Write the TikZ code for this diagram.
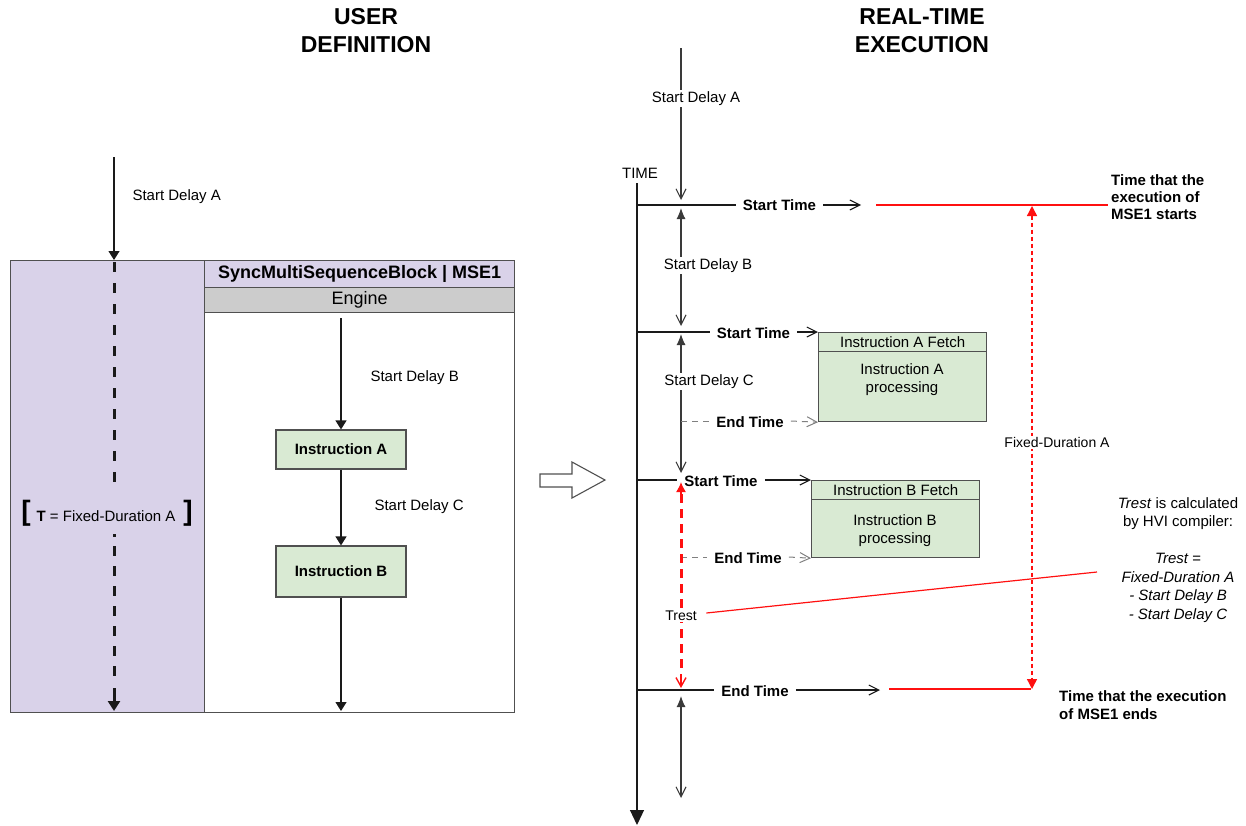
\documentclass[tikz,border=0pt]{standalone}
\usepackage{fontspec}
\setmainfont{Liberation Sans}
\usetikzlibrary{arrows.meta}
\definecolor{lpurple}{HTML}{D9D2E9}
\definecolor{lgreen}{HTML}{D9EAD3}
\definecolor{lgray}{HTML}{CCCCCC}
\definecolor{edge}{HTML}{505050}
\definecolor{ink}{HTML}{1A1A1A}
\definecolor{vink}{HTML}{3A3A3A}
\definecolor{dgray}{HTML}{808080}
\definecolor{redl}{HTML}{FF1010}
\tikzset{
  ov/.tip={Straight Barb[length=10pt,width=10pt]},
  fv/.tip={Latex[length=11pt,width=9pt]},
  lt/.tip={Triangle[length=9pt,width=11pt]},
  rt/.tip={Triangle[length=10pt,width=10pt]},
  base/.style={font=\fontsize{15}{18}\selectfont},
  title/.style={align=center, inner sep=0pt, font=\bfseries\fontsize{23}{28}\selectfont},
  lbl/.style={inner sep=1.5pt, fill=white, font=\fontsize{15}{18}\selectfont},
  blbl/.style={inner xsep=7pt, inner ysep=1pt, font=\bfseries\fontsize{15}{18}\selectfont},
  box/.style={draw=edge, line width=1.2pt, anchor=north west, inner sep=0pt},
  ibox/.style={draw=edge, line width=1.2pt, fill=lgreen, minimum width=130pt, inner sep=0pt, font=\bfseries\fontsize{15}{18}\selectfont},
  lcon/.style={draw=ink, line width=1.2pt},
  con/.style={draw=ink, line width=1.1pt},
  vcon/.style={draw=vink, line width=1.1pt},
  gdash/.style={draw=dgray, line width=1pt, dash pattern=on 6pt off 5pt},
  redline/.style={draw=redl, line width=1.2pt},
}
\begin{document}
\begin{tikzpicture}[x=1pt,y=-1pt,base]
\useasboundingbox (0,0) rectangle (1246,825);

% titles
\node[title] (ttl1) at (366,31) {USER\\DEFINITION};
\node[title] (ttl2) at (922,31) {REAL-TIME\\EXECUTION};

% ---------- left panel ----------
\node[box, fill=lpurple, minimum width=194pt, minimum height=452pt] (purp) at (10,260) {};
\node[box, fill=white, minimum width=310pt, minimum height=452pt] (blk) at (204,260) {};
\node[box, fill=lpurple, minimum width=310pt, minimum height=27pt, font=\bfseries\fontsize{18}{20}\selectfont] (hdr) at (204,260) {SyncMultiSequenceBlock | MSE1};
\node[box, fill=lgray, minimum width=310pt, minimum height=25pt, font=\fontsize{18}{20}\selectfont] (eng) at (204,287) {Engine};

\coordinate (sdaL) at (114,157);
\draw[lcon, -lt] (sdaL) -- (purp.north -| sdaL);
\node[anchor=west] (sdaLl) at (129,197) {Start Delay A};

% dashed duration line inside the purple panel
\foreach \i in {0,...,10} {
  \fill[ink] (112.5,262+21*\i) rectangle (115.5,272+21*\i);
}
\fill[ink] (112.5,534) rectangle (115.5,537);
\foreach \i in {0,...,6} {
  \fill[ink] (112.5,546+20*\i) rectangle (115.5,556+20*\i);
}
\coordinate (pd3) at (114,688);
\coordinate (pd4) at (114,711);
\draw[draw=ink, line width=3pt, -{Triangle[length=10pt,width=12pt]}] (pd3) -- (pd4);

\node[font=\bfseries\fontsize{28}{28}\selectfont, inner sep=0pt] (brl) at (26,513) {[};
\node[inner sep=0pt] (tfd) at (106,516) {\textbf{T} = Fixed-Duration A};
\node[font=\bfseries\fontsize{28}{28}\selectfont, inner sep=0pt] (brr) at (188,513) {]};

\coordinate (e0) at (341,318);
\node[ibox, minimum height=39pt] (ia) at (341,449.5) {Instruction A};
\node[ibox, minimum height=51pt] (ib) at (341,571.5) {Instruction B};
\coordinate (e1) at (341,711);
\draw[lcon, -lt] (e0) -- (ia);
\draw[lcon, -lt] (ia) -- (ib);
\draw[lcon, -lt] (ib) -- (e1);
\node[anchor=west] (sdbL) at (367,378) {Start Delay B};
\node[anchor=west] (sdcL) at (371,507) {Start Delay C};

% hollow arrow
\draw[draw=edge, line width=1.1pt, fill=white]
  (540,474) -- (572,474) -- (572,462) -- (605,480) -- (572,498) -- (572,487) -- (540,487) -- cycle;

% ---------- right panel ----------
\coordinate (ax0) at (637,183);
\coordinate (ax9) at (637,825);
\draw[con, -{Triangle[length=15pt,width=14pt]}] (ax0) -- (ax9);
\node (time) at (640,173) {TIME};

% start delay A
\coordinate (sa0) at (681,48);
\coordinate (sa1) at (681,200);
\draw[vcon, -ov] (sa0) -- node[lbl, pos=0.32, xshift=15pt, yshift=-2pt] (sdaR) {Start Delay A} (sa1);

% start time 1
\coordinate (ax1) at (637,205);
\node[blbl] (st1) at (779.5,205) {Start Time};
\coordinate (st1e) at (861,205);
\draw[con] (ax1) -- (st1);
\draw[con, -ov] (st1) -- (st1e);
\coordinate (r1a) at (876,205);
\coordinate (r1b) at (1108,205);
\draw[redline] (r1a) -- (r1b);
\node[anchor=west, align=left, inner sep=0pt, font=\bfseries\fontsize{15}{17}\selectfont] (txs) at (1111,197) {Time that the\\execution of\\MSE1 starts};

% start delay B
\coordinate (sb0) at (681,208);
\coordinate (sb1) at (681,326);
\draw[vcon, fv-ov] (sb0) -- node[lbl, pos=0.47, xshift=27pt, yshift=-2pt] (sdbR) {Start Delay B} (sb1);

% instruction A (real time)
\node[box, fill=lgreen, minimum width=168pt, minimum height=70pt] (iap) at (818,351) {};
\node[box, fill=lgreen, minimum width=168pt, minimum height=19pt] (iaf) at (818,332) {Instruction A Fetch};
\node[align=center, inner sep=0pt] (iapt) at (902,380) {Instruction A\\processing};

% start time 2
\coordinate (ax2) at (637,332);
\node[blbl] (st2) at (753.5,333) {Start Time};
\draw[con] (ax2) -- (st2.west |- ax2);
\draw[con, -ov] (st2.east |- ax2) -- (iaf.north west);

% start delay C
\coordinate (sc0) at (681,334);
\coordinate (sc1) at (681,473);
\draw[vcon, fv-ov] (sc0) -- node[lbl, pos=0.33, xshift=28pt, yshift=-2pt] (sdcR) {Start Delay C} (sc1);

% end time A
\coordinate (ea0) at (681,421);
\node[blbl] (eta) at (750,422) {End Time};
\draw[gdash] (ea0) -- (eta.west |- ea0);
\draw[gdash, -ov] (eta.east |- ea0) -- (iap.south west);

% instruction B (real time)
\node[box, fill=lgreen, minimum width=168pt, minimum height=58pt] (ibp) at (811,499) {};
\node[box, fill=lgreen, minimum width=168pt, minimum height=19pt] (ibf) at (811,480) {Instruction B Fetch};
\node[align=center, inner sep=0pt] (ibpt) at (895,531) {Instruction B\\processing};

% start time 3
\coordinate (ax3) at (637,480);
\node[blbl] (st3) at (721,481) {Start Time};
\draw[con] (ax3) -- (st3.west |- ax3);
\draw[con, -ov] (st3.east |- ax3) -- (ibf.north west);

% end time B
\coordinate (eb0) at (681,557);
\node[blbl] (etb) at (748,558) {End Time};
\draw[gdash] (eb0) -- (etb.west |- eb0);
\draw[gdash, -ov] (etb.east |- eb0) -- (ibp.south west);

% Trest (thick red dashed double arrow)
\coordinate (tr0) at (681,482);
\coordinate (tr1) at (681,688);
\foreach \i in {0,...,11} {
  \fill[redl] (679.5,494+15*\i) rectangle (682.5,503+15*\i);
}
\draw[draw=redl, line width=1.4pt, -{Latex[length=10pt,width=10pt]}] (681,494) -- (tr0);
\draw[draw=redl, line width=1.4pt, -{Straight Barb[length=9pt,width=10pt]}] (681,674) -- (tr1);
\node[lbl, font=\fontsize{14}{16}\selectfont] (trest) at (681,616) {Trest};
\coordinate (tr9) at (1097,572);
\draw[redline] ([xshift=8pt,yshift=3pt]trest.east) -- (tr9);

% end time
\coordinate (ax4) at (637,690);
\node[blbl] (ete) at (755,691) {End Time};
\coordinate (ete1) at (880,690);
\draw[con] (ax4) -- (ete.west |- ax4);
\draw[con, -ov] (ete.east |- ax4) -- (ete1);
\coordinate (r2a) at (889,689);
\coordinate (r2b) at (1031,689);
\draw[redline] (r2a) -- (r2b);
\node[anchor=west, align=left, inner sep=0pt, font=\bfseries\fontsize{15}{18}\selectfont] (txe) at (1059,705) {Time that the execution\\of MSE1 ends};

% after end time
\coordinate (bt0) at (681,696);
\coordinate (bt1) at (681,798);
\draw[vcon, fv-ov] (bt0) -- (bt1);

% fixed duration
\coordinate (fd0) at (1032,206);
\coordinate (fd1) at (1032,689);
\draw[draw=redl, line width=1.4pt, dash pattern=on 4pt off 3pt, rt-rt]
  (fd0) -- node[lbl, pos=0.49, xshift=25pt, font=\fontsize{14}{16}\selectfont] (fdl) {Fixed-Duration A} (fd1);

% explanation
\node[align=center, inner sep=0pt, font=\fontsize{15}{18.5}\selectfont] (calc) at (1178,560)
  {\textit{Trest} is calculated\\by HVI compiler:\\\mbox{}\\\textit{Trest =}\\\textit{Fixed-Duration A}\\\textit{- Start Delay B}\\\textit{- Start Delay C}};
\end{tikzpicture}
\end{document}
